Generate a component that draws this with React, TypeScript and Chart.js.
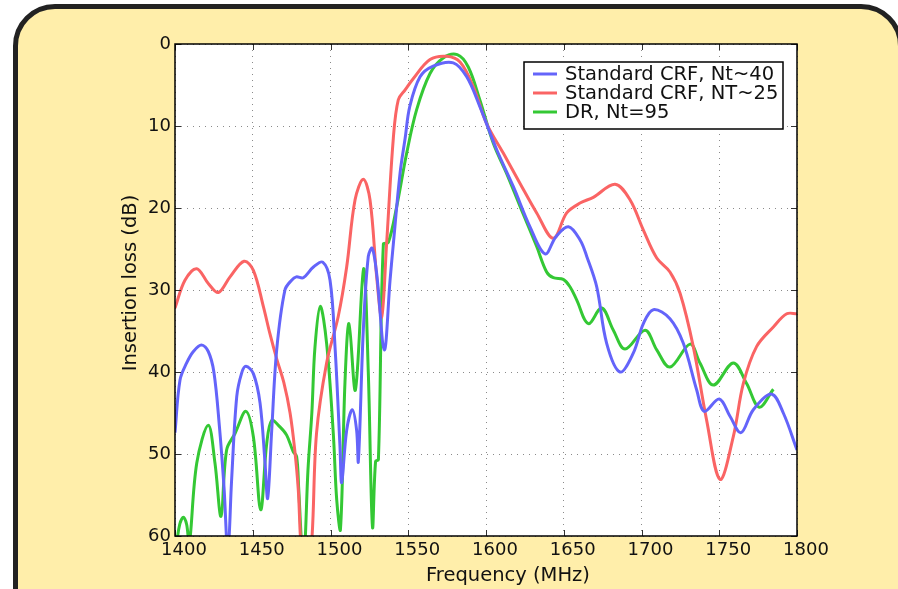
import React, { useEffect, useRef } from "react";
import { Chart, registerables } from "chart.js";

Chart.register(...registerables);

// ---------- data ----------
const seriesLabels = ["Standard CRF, Nt~40", "Standard CRF, NT~25", "DR, Nt=95"];
const seriesColors = ["#6464fa", "#fa6464", "#34c834"];

const xTickValues = [1400, 1450, 1500, 1550, 1600, 1650, 1700, 1750, 1800];
const yTickValues = [0, 10, 20, 30, 40, 50, 60];

const blueFreq = [
  1400, 1403.2, 1407.5, 1411.8, 1417, 1421.4, 1425, 1428.5, 1431.5, 1434, 1436.4, 1439.7, 1442.9, 1445.6,
  1450.4, 1454.7, 1457.9, 1459.6, 1462.2, 1465.4, 1470.7, 1475, 1478, 1482.5, 1489, 1495, 1499.7, 1502.9,
  1506.1, 1507.2, 1510.4, 1514, 1516.8, 1517.9, 1521.1, 1524.3, 1526.8, 1529.7, 1534.6, 1538.3, 1540.4,
  1544.7, 1548, 1551, 1557.6, 1566, 1579, 1587.6, 1596, 1606.9, 1617.6, 1628.3, 1638, 1645, 1653, 1660.5,
  1664.8, 1671.2, 1677.6, 1686.2, 1694.7, 1701.2, 1707.6, 1718.3, 1726.9, 1735.5, 1740.4, 1750, 1756.9,
  1764, 1771.9, 1783.7, 1791.2, 1800,
];
const blueLoss = [
  47.4, 41, 38.9, 37.5, 36.7, 37.5, 40.0, 46.5, 54, 62, 53.2, 43, 40.1, 39.3,
  40.2, 43.8, 51.1, 55.4, 47.1, 37.3, 30, 28.8, 28.4, 28.5, 27.2, 26.6, 28.8, 36.9,
  49.1, 53.5, 47.1, 44.6, 47.1, 50.9, 34.9, 25.9, 24.9, 28, 37.3, 28.8, 24.4,
  15.8, 11.5, 7.6, 4.0, 2.7, 2.3, 4.0, 7.6, 12.9, 17.4, 22.3, 25.6, 23.5, 22.3, 23.9,
  25.9, 29.6, 36.5, 40.0, 37.7, 34.1, 32.4, 33.5, 36.5, 42.2, 44.8, 43.3, 45.4,
  47.4, 44.6, 42.7, 45.0, 49.5,
];

const redFreq = [
  1400, 1406.4, 1414, 1421.4, 1427.9, 1435.4, 1444.4, 1450.4, 1456.8, 1461, 1465.4, 1470, 1474, 1477,
  1479.3, 1480.8, 1484, 1488, 1491, 1497.5, 1505, 1510.4, 1515.8, 1521.1, 1525.4, 1529.7, 1532.9, 1536.1,
  1540.4, 1543.6, 1548, 1553.3, 1564, 1574.7, 1583.3, 1591.8, 1600.4, 1611.1, 1621.9, 1632.6, 1643.3,
  1651.9, 1660.5, 1669, 1683, 1692.6, 1701.2, 1709.8, 1718.3, 1724.8, 1733.3, 1741.9, 1750.5, 1759,
  1765.5, 1774, 1784.8, 1793.4, 1800,
];
const redLoss = [
  32.2, 28.8, 27.4, 29.2, 30.3, 28.4, 26.5, 27.6, 32.0, 35.3, 38.4, 41.3, 45, 49.5,
  54.4, 60.5, 67, 60.5, 47.5, 38.9, 33.2, 27.2, 19.0, 16.5, 19.0, 28.4, 33.3, 24.3,
  11.5, 6.8, 5.6, 4.2, 1.9, 1.5, 2.2, 5.2, 9.7, 13.3, 17.0, 20.6, 23.7,
  20.6, 19.4, 18.7, 17.1, 19.0, 22.7, 26.1, 27.8, 30.4, 36.9, 45.9, 53.1, 47.9,
  41.4, 36.9, 34.5, 32.9, 32.9,
];

const greenFreq = [
  1401, 1403, 1405.4, 1407.5, 1409.2, 1414, 1421.4, 1425.7, 1429.6, 1433.2, 1438.6, 1445.6, 1450.4,
  1455.1, 1459, 1462.2, 1467.5, 1471.8, 1476, 1478.2, 1479.5, 1481.4, 1482.5, 1483.6, 1485.5, 1488,
  1490, 1493.4, 1497.5, 1501.8, 1504, 1506.4, 1509.3, 1511.9, 1516, 1521.3, 1524.3, 1527, 1529, 1530.8,
  1534, 1537.2, 1542.6, 1549, 1555.4, 1564, 1572.5, 1581.5, 1588.6, 1596, 1604.7, 1613.3, 1621.9,
  1632.6, 1639, 1643.3, 1649.7, 1654, 1658.3, 1665.8, 1674.4, 1681.9, 1689.4, 1702.3, 1709.8, 1718.3,
  1731.2, 1737.6, 1746.2, 1759, 1767.6, 1775.7, 1784.8,
];
const greenLoss = [
  61, 58.6, 57.7, 58.6, 61, 51.1, 46.5, 51.1, 57.6, 49.5, 47.5, 44.8, 47.9,
  56.8, 48.7, 45.9, 46.7, 47.7, 49.7, 50.3, 54, 61, 63, 61, 52, 45,
  37, 32.0, 36.5, 47.5, 55.6, 59.2, 41.3, 34.1, 42.2, 27.4, 40, 58.9, 50.9, 50.7,
  24.4, 24.2, 19.8, 13.3, 8.0, 3.6, 1.7, 1.3, 2.8, 6.8, 12.1, 15.8, 19.8,
  24.7, 27.8, 28.5, 28.7, 29.6, 31.2, 34.1, 32.2, 34.9, 37.2, 34.9, 37.3, 39.4,
  36.6, 38.9, 41.6, 38.9, 41.4, 44.3, 42.1,
];

const xTitle = "Frequency (MHz)";
const yTitle = "Insertion loss (dB)";

const FONT = '"DejaVu Sans", Verdana, sans-serif';

function toPoints(xs: number[], ys: number[]) {
  return xs.map((x, i) => ({ x, y: ys[i] }));
}

const chartPlugin = {
  id: "paperFrame",
  beforeDraw(chart: any) {
    const { ctx, chartArea: a } = chart;
    ctx.save();
    ctx.fillStyle = "#ffffff";
    ctx.fillRect(a.left, a.top, a.right - a.left, a.bottom - a.top);
    ctx.restore();
  },
  afterDraw(chart: any) {
    const { ctx, chartArea: a, scales } = chart;
    const xs = scales.x;
    const ys = scales.y;
    ctx.save();
    // inner ticks
    ctx.strokeStyle = "#333";
    ctx.lineWidth = 1;
    ctx.beginPath();
    xTickValues.forEach((v) => {
      const px = Math.round(xs.getPixelForValue(v)) + 0.5;
      ctx.moveTo(px, a.bottom);
      ctx.lineTo(px, a.bottom - 6);
      ctx.moveTo(px, a.top);
      ctx.lineTo(px, a.top + 6);
    });
    yTickValues.forEach((v) => {
      const py = Math.round(ys.getPixelForValue(v)) + 0.5;
      ctx.moveTo(a.left, py);
      ctx.lineTo(a.left + 6, py);
      ctx.moveTo(a.right, py);
      ctx.lineTo(a.right - 6, py);
    });
    ctx.stroke();
    // frame
    ctx.strokeStyle = "#000";
    ctx.lineWidth = 1.5;
    ctx.strokeRect(a.left, a.top, a.right - a.left, a.bottom - a.top);

    // axis titles
    ctx.fillStyle = "#111";
    ctx.font = `19.5px ${FONT}`;
    ctx.textAlign = "center";
    ctx.textBaseline = "middle";
    ctx.fillText(xTitle, 508, 576);
    ctx.save();
    ctx.translate(131, 283);
    ctx.rotate(-Math.PI / 2);
    ctx.fillText(yTitle, 0, 0);
    ctx.restore();

    // legend
    const lx = 524, ly = 62, lw = 259, lh = 67;
    ctx.fillStyle = "#fff";
    ctx.fillRect(lx, ly, lw, lh);
    ctx.strokeStyle = "#000";
    ctx.lineWidth = 1.5;
    ctx.strokeRect(lx, ly, lw, lh);
    const rows = [74, 93, 112];
    ctx.font = `19.5px ${FONT}`;
    ctx.textAlign = "left";
    ctx.textBaseline = "middle";
    seriesLabels.forEach((lab, i) => {
      ctx.strokeStyle = seriesColors[i];
      ctx.lineWidth = 3;
      ctx.beginPath();
      ctx.moveTo(533, rows[i]);
      ctx.lineTo(557, rows[i]);
      ctx.stroke();
      ctx.fillStyle = "#111";
      ctx.fillText(lab, 565, rows[i] + 1);
    });
    ctx.restore();
  },
};

export default function App() {
  const canvasRef = useRef<HTMLCanvasElement | null>(null);

  useEffect(() => {
    if (!canvasRef.current) return;
    const series = [
      toPoints(blueFreq, blueLoss),
      toPoints(redFreq, redLoss),
      toPoints(greenFreq, greenLoss),
    ];
    const chart = new Chart(canvasRef.current, {
      type: "line",
      data: {
        datasets: series.map((d, i) => ({
          label: seriesLabels[i],
          data: d,
          borderColor: seriesColors[i],
          backgroundColor: seriesColors[i],
          borderWidth: 3,
          pointRadius: 0,
          tension: 0.35,
          clip: 0,
        })),
      },
      options: {
        responsive: false,
        animation: false,
        devicePixelRatio: 1,
        layout: { padding: { left: 0, right: 101, top: 44, bottom: 0 } },
        plugins: { legend: { display: false }, tooltip: { enabled: false } },
        scales: {
          x: {
            type: "linear",
            min: 1400,
            max: 1800,
            afterFit: (scale: any) => {
              scale.height = 53;
            },
            afterBuildTicks: (scale: any) => {
              scale.ticks = xTickValues.map((v) => ({ value: v }));
            },
            ticks: {
              color: "#111",
              font: { family: FONT, size: 18 },
              padding: 4,
              labelOffset: 9,
              maxRotation: 0,
              autoSkip: false,
              callback: (v: any) => String(v),
            },
            grid: { color: "#8a8a8a", drawTicks: false, lineWidth: 1 },
            border: { display: false, dash: [1, 5] },
          },
          y: {
            type: "linear",
            reverse: true,
            min: 0,
            max: 60,
            afterFit: (scale: any) => {
              scale.width = 175;
            },
            afterBuildTicks: (scale: any) => {
              scale.ticks = yTickValues.map((v) => ({ value: v }));
            },
            ticks: {
              color: "#111",
              font: { family: FONT, size: 18 },
              padding: 4,
              autoSkip: false,
              callback: (v: any) => String(v),
            },
            grid: { color: "#8a8a8a", drawTicks: false, lineWidth: 1 },
            border: { display: false, dash: [1, 5] },
          },
        },
      },
      plugins: [chartPlugin],
    });
    return () => chart.destroy();
  }, []);

  return (
    <div
      style={{
        position: "fixed",
        left: 0,
        top: 0,
        width: 898,
        height: 589,
        overflow: "hidden",
        background: "#ffffff",
      }}
    >
      <div
        style={{
          position: "absolute",
          left: 13,
          top: 4,
          width: 890,
          height: 700,
          boxSizing: "border-box",
          border: "5px solid #222",
          borderRadius: 42,
          background: "#ffeeaa",
        }}
      />
      <canvas
        ref={canvasRef}
        width={898}
        height={589}
        style={{ position: "absolute", left: 0, top: 0 }}
      />
    </div>
  );
}
